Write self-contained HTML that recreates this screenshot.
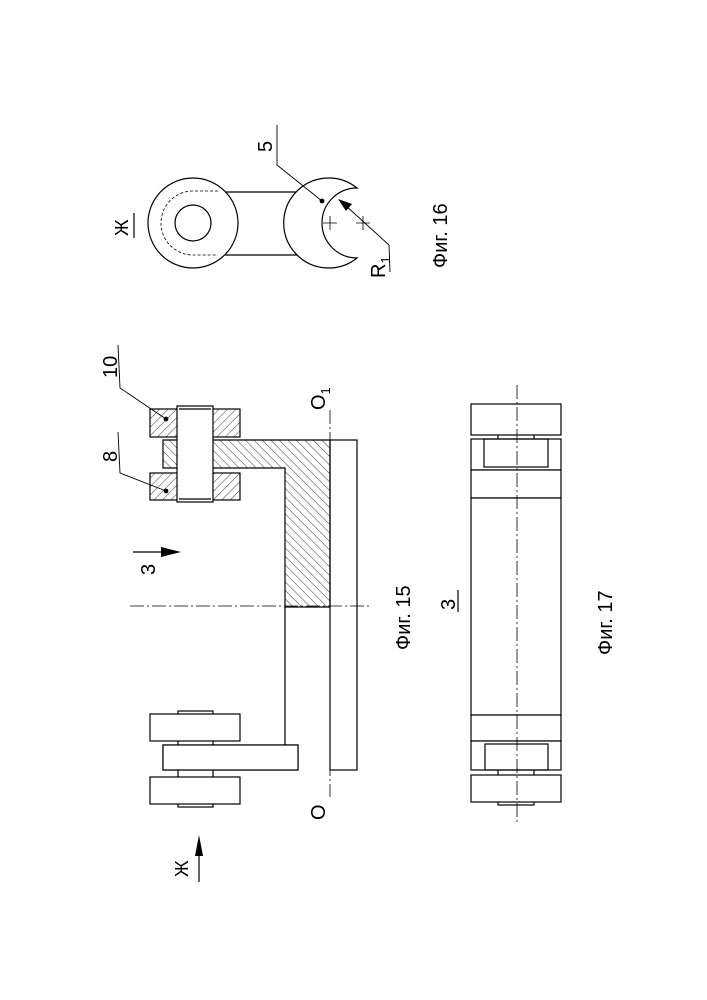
<!DOCTYPE html>
<html><head><meta charset="utf-8"><style>html,body{margin:0;padding:0;background:#fff}svg{display:block}</style></head>
<body>
<svg width="707" height="1000" viewBox="0 0 707 1000" xmlns="http://www.w3.org/2000/svg" font-family="Liberation Sans, DejaVu Sans, sans-serif" fill="none" stroke="#000" stroke-width="1.2">
<defs>
<pattern id="h1" width="6" height="6" patternUnits="userSpaceOnUse" patternTransform="rotate(45)"><line x1="0" y1="0" x2="0" y2="6" stroke="#000" stroke-width="0.8"/></pattern>
<pattern id="h2" width="6" height="6" patternUnits="userSpaceOnUse" patternTransform="rotate(-45)"><line x1="0" y1="0" x2="0" y2="6" stroke="#000" stroke-width="0.8"/></pattern>
</defs>
<g>
<line x1="130" y1="606" x2="372" y2="606" stroke-width="0.8" stroke-dasharray="14,3,2,3"/>
<line x1="330" y1="410" x2="330" y2="797" stroke-width="0.8" stroke-dasharray="14,3,2,3"/>
<rect x="330" y="440" width="27" height="330"/>
<path d="M163 440 L330 440 L330 607 L285 607 L285 468 L163 468 Z" fill="url(#h2)"/>
<path d="M285 607 L285 745"/>
<rect x="163" y="745" width="135" height="25"/>
<rect x="150" y="409" width="90" height="28" fill="url(#h1)"/>
<rect x="150" y="473" width="90" height="27" fill="url(#h1)"/>
<rect x="177" y="406" width="36" height="96" fill="#fff"/>
<line x1="179" y1="409" x2="211" y2="409"/><line x1="179" y1="499" x2="211" y2="499"/>
<circle cx="166" cy="419" r="1.8" fill="#000"/>
<circle cx="166" cy="491" r="1.8" fill="#000"/>
<rect x="178" y="711" width="35" height="96"/>
<rect x="150" y="714" width="90" height="27" fill="#fff"/>
<rect x="163" y="745" width="135" height="25" fill="#fff"/>
<rect x="150" y="777" width="90" height="27" fill="#fff"/>
<polyline points="118,345 120,388 166,419" stroke-width="0.9"/>
<polyline points="118,432 120,473 166,491" stroke-width="0.9"/>
<line x1="133" y1="552" x2="168" y2="552"/>
<polygon points="181,552 161,547 161,557" fill="#000" stroke="none"/>
<line x1="199" y1="882" x2="199" y2="850"/>
<polygon points="199,835 195,856 203,856" fill="#000" stroke="none"/>
</g>
<g fill="#000" stroke="none" font-size="20">
<text transform="translate(117,378) rotate(-90)">10</text>
<text transform="translate(117,462) rotate(-90)">8</text>
<text transform="translate(325,410) rotate(-90)">O<tspan font-size="13" dy="5">1</tspan></text>
<text transform="translate(325,820) rotate(-90)">O</text>
<text transform="translate(155,575) rotate(-90)">3</text>
<text transform="translate(188,877) rotate(-90)" font-size="18">Ж</text>
<text transform="translate(410,650) rotate(-90)">Фиг. 15</text>
<text transform="translate(455,610) rotate(-90)">3</text>
<text transform="translate(612,655) rotate(-90)">Фиг. 17</text>
<text transform="translate(447,268) rotate(-90)">Фиг. 16</text>
<text transform="translate(128,236) rotate(-90)" font-size="18">Ж</text>
<text transform="translate(272,152) rotate(-90)">5</text>
<text transform="translate(385,278) rotate(-90)">R<tspan font-size="13" dy="5">1</tspan></text>
</g>
<line x1="458" y1="590" x2="458" y2="612"/>
<line x1="134" y1="213" x2="134" y2="238"/>
<g>
<rect x="498" y="405" width="36" height="400"/>
<rect x="471" y="404" width="90" height="31" fill="#fff"/>
<rect x="471" y="439" width="90" height="31" fill="#fff"/>
<rect x="484" y="439" width="64" height="28"/>
<rect x="471" y="470" width="90" height="28" fill="#fff"/>
<rect x="471" y="498" width="90" height="217" fill="#fff"/>
<rect x="471" y="715" width="90" height="26" fill="#fff"/>
<rect x="471" y="741" width="90" height="29" fill="#fff"/>
<rect x="485" y="744" width="63" height="26"/>
<rect x="471" y="775" width="90" height="27" fill="#fff"/>
<line x1="517" y1="385" x2="517" y2="822" stroke-width="0.8" stroke-dasharray="14,3,2,3"/>
</g>
<g>
<circle cx="193" cy="223" r="45"/>
<circle cx="193" cy="223" r="18"/>
<path d="M218 191 L193 191 A32 32 0 0 0 193 255 L218 255" stroke-width="0.8" stroke-dasharray="3,2"/>
<line x1="225" y1="192" x2="297" y2="192"/>
<line x1="225" y1="255" x2="297" y2="255"/>
<path d="M357 188 A45 45 0 1 0 357 258 A35 35 0 0 1 357 188 Z" fill="#fff"/>
<circle cx="322" cy="201" r="1.8" fill="#000"/>
<polyline points="322,201 277,165 277,125" stroke-width="0.9"/>
<line x1="390" y1="272" x2="389" y2="245" stroke-width="0.9"/>
<line x1="389" y1="245" x2="345" y2="205" stroke-width="0.9"/>
<polygon points="338,199 352,204 346,211" fill="#000" stroke="none"/>
<path d="M323 223 h14 M330 216 v14 M356 223 h14 M363 216 v14" stroke-width="0.8"/>
</g>
</svg>
</body></html>
